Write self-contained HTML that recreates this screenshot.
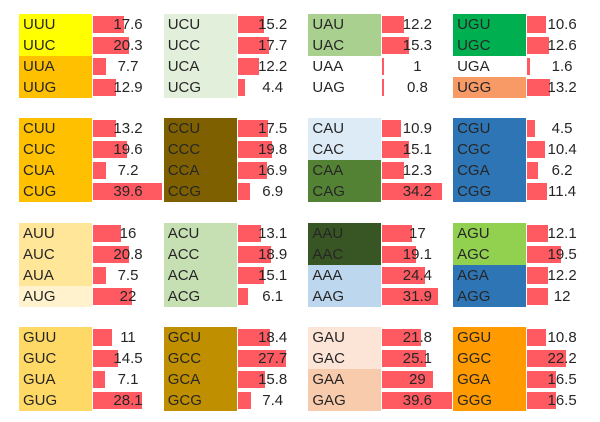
<!DOCTYPE html>
<html><head><meta charset="utf-8"><style>
html,body{margin:0;padding:0;background:#fff;}
#chart{position:relative;width:600px;height:422px;overflow:hidden;font-family:"Liberation Sans",sans-serif;font-size:15px;color:#262626;}
.cell{position:absolute;height:21px;line-height:21px;box-sizing:border-box;padding-left:4px;}
.bar{position:absolute;height:17px;background:#ff5a62;}
.val{position:absolute;height:21px;line-height:21px;width:60px;text-align:center;}
</style></head><body>
<div id="chart"></div>
<script>
const bases = ["U","C","A","G"];
const codonValues = [
 [17.6,20.3,7.7,12.9],[15.2,17.7,12.2,4.4],[12.2,15.3,1,0.8],[10.6,12.6,1.6,13.2],
 [13.2,19.6,7.2,39.6],[17.5,19.8,16.9,6.9],[10.9,15.1,12.3,34.2],[4.5,10.4,6.2,11.4],
 [16,20.8,7.5,22],[13.1,18.9,15.1,6.1],[17,19.1,24.4,31.9],[12.1,19.5,12.2,12],
 [11,14.5,7.1,28.1],[18.4,27.7,15.8,7.4],[21.8,25.1,29,39.6],[10.8,22.2,16.5,16.5]
];
const cellColors = [
 ["#ffff00","#ffff00","#ffc000","#ffc000"],["#e2efda","#e2efda","#e2efda","#e2efda"],["#a9d08e","#a9d08e","#ffffff","#ffffff"],["#00b050","#00b050","#ffffff","#f89a65"],
 ["#ffc000","#ffc000","#ffc000","#ffc000"],["#7f6000","#7f6000","#7f6000","#7f6000"],["#ddebf7","#ddebf7","#548235","#548235"],["#2e75b6","#2e75b6","#2e75b6","#2e75b6"],
 ["#ffe699","#ffe699","#ffe699","#fff2cc"],["#c6e0b4","#c6e0b4","#c6e0b4","#c6e0b4"],["#375623","#375623","#bdd7ee","#bdd7ee"],["#92d050","#92d050","#2e75b6","#2e75b6"],
 ["#ffd966","#ffd966","#ffd966","#ffd966"],["#bf8f00","#bf8f00","#bf8f00","#bf8f00"],["#fce4d6","#fce4d6","#f8cbad","#f8cbad"],["#ff9a00","#ff9a00","#ff9a00","#ff9a00"]
];
const chart = document.getElementById('chart');
const colX = g => 19 + g * 144.7;
const rowY = (g, r) => 14 + g * 104.3 + r * 21;
const barW = v => v * 1.75;
for (let gi = 0; gi < 4; gi++) {
  for (let gj = 0; gj < 4; gj++) {
    const k = gi * 4 + gj;
    const x = colX(gj);
    for (let r = 0; r < 4; r++) {
      const y = rowY(gi, r);
      const codon = bases[gi] + bases[gj] + bases[r];
      const v = codonValues[k][r];
      const c = document.createElement('div');
      c.className = 'cell';
      c.style.left = x + 'px'; c.style.top = y + 'px'; c.style.width = '73px';
      c.style.background = cellColors[k][r];
      c.textContent = codon;
      
      
      chart.appendChild(c);
      const b = document.createElement('div');
      b.className = 'bar';
      b.style.left = (x + 74) + 'px'; b.style.top = (y + 2) + 'px'; b.style.width = barW(v) + 'px';
      
      
      chart.appendChild(b);
      const t = document.createElement('div');
      t.className = 'val';
      t.style.left = (x + 79) + 'px'; t.style.top = y + 'px';
      t.textContent = v;
      
      
      chart.appendChild(t);
    }
  }
}
</script>
</body></html>
